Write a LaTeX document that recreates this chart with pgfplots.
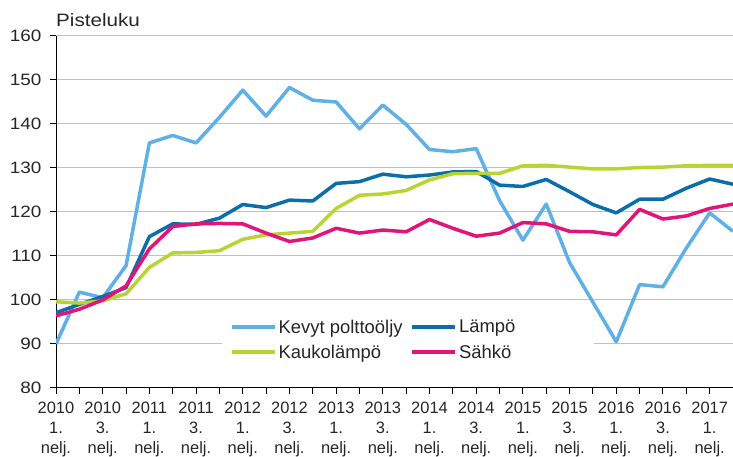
\documentclass[border=0pt]{standalone}
\usepackage{fontspec}
\setmainfont{Liberation Sans}
\newfontfamily\yfont{Liberation Sans}[FakeStretch=1.15]
\usepackage{pgfplots}
\pgfplotsset{compat=1.18}

\definecolor{cKevyt}{RGB}{95,176,230}
\definecolor{cLampo}{RGB}{10,110,170}
\definecolor{cKauko}{RGB}{185,212,50}
\definecolor{cSahko}{RGB}{226,20,122}
\definecolor{cGrid}{RGB}{192,192,192}

\pgfplotstableread{
i kevyt lampo kauko sahko
0 90.0 97.1 99.6 96.4
1 101.8 99.0 99.3 97.9
2 100.5 100.8 99.8 100.0
3 107.8 102.8 101.4 103.2
4 135.7 114.4 107.4 111.6
5 137.4 117.3 110.7 116.7
6 135.7 117.2 110.8 117.3
7 141.5 118.6 111.2 117.4
8 147.7 121.7 113.8 117.3
9 141.8 121.0 114.8 115.2
10 148.3 122.7 115.2 113.3
11 145.4 122.5 115.6 114.1
12 145.0 126.5 120.8 116.3
13 138.9 126.9 123.8 115.2
14 144.3 128.6 124.1 115.9
15 139.9 128.0 124.9 115.5
16 134.2 128.4 127.3 118.3
17 133.7 129.1 128.7 116.3
18 134.4 129.2 128.8 114.5
19 122.6 126.1 128.8 115.2
20 113.6 125.8 130.5 117.6
21 121.8 127.4 130.6 117.3
22 108.5 124.6 130.2 115.6
23 99.5 121.7 129.8 115.5
24 90.5 119.8 129.8 114.8
25 103.5 122.9 130.1 120.6
26 103.0 122.9 130.2 118.4
27 111.8 125.4 130.5 119.1
28 119.8 127.5 130.6 120.8
29 115.6 126.3 130.6 121.8
}\datatable

\begin{document}
\begin{tikzpicture}
\begin{axis}[
  name=ax,
  scale only axis, width=677bp, height=352bp,
  xmin=0, xmax=29, ymin=80, ymax=160,
  axis x line*=bottom, axis y line*=left,
  axis line style={-, black, line width=1bp},
  ytick={80,90,...,160},
  xtick={0,...,29},
  xticklabels={{2010\\1.\\nelj.},{},{2010\\3.\\nelj.},{},
               {2011\\1.\\nelj.},{},{2011\\3.\\nelj.},{},
               {2012\\1.\\nelj.},{},{2012\\3.\\nelj.},{},
               {2013\\1.\\nelj.},{},{2013\\3.\\nelj.},{},
               {2014\\1.\\nelj.},{},{2014\\3.\\nelj.},{},
               {2015\\1.\\nelj.},{},{2015\\3.\\nelj.},{},
               {2016\\1.\\nelj.},{},{2016\\3.\\nelj.},{},
               {2017\\1.\\nelj.},{}},
  xticklabel style={align=center, font=\fontsize{16.5}{20}\selectfont, text=black!85, yshift=-4.5bp},
  yticklabel style={font=\yfont\fontsize{16.5}{19}\selectfont, text=black!85, xshift=-5bp},
  /pgf/number format/assume math mode=true,
  tick align=outside,
  major tick length=6bp,
  tick style={black, line width=1bp},
  ymajorgrids, grid style={cGrid, line width=1bp},
  legend columns=2,
  legend cell align=left,
  legend style={at={(axis cs:7.11,96.9)}, anchor=north west, draw=none, fill=white,
    inner xsep=8bp, inner ysep=4bp, font=\fontsize{18.5}{21}\selectfont, text=black!85,
    row sep=6bp,
    /tikz/every even column/.append style={column sep=6bp}},
  legend image code/.code={\draw[#1, line width=3.5bp] (0bp,0bp) -- (43bp,0bp);},
  every axis plot/.append style={line width=3.5bp, line join=round},
]
\addplot[cKevyt] table[x=i, y=kevyt] {\datatable};
\addlegendentry{Kevyt polttoöljy}
\addplot[cLampo] table[x=i, y=lampo] {\datatable};
\addlegendentry{Lämpö\hspace*{69bp}}
\addplot[cKauko] table[x=i, y=kauko] {\datatable};
\addlegendentry{Kaukolämpö}
\addplot[cSahko] table[x=i, y=sahko] {\datatable};
\addlegendentry{Sähkö}
\end{axis}
\node[anchor=base west, font=\yfont\fontsize{18}{20}\selectfont, text=black!85, inner sep=0pt] at ([yshift=9bp]ax.north west) {Pisteluku};
\pgfresetboundingbox
\path ([shift={(-56bp,-69bp)}]ax.south west) rectangle ([shift={(0bp,36bp)}]ax.north east);
\end{tikzpicture}
\end{document}
